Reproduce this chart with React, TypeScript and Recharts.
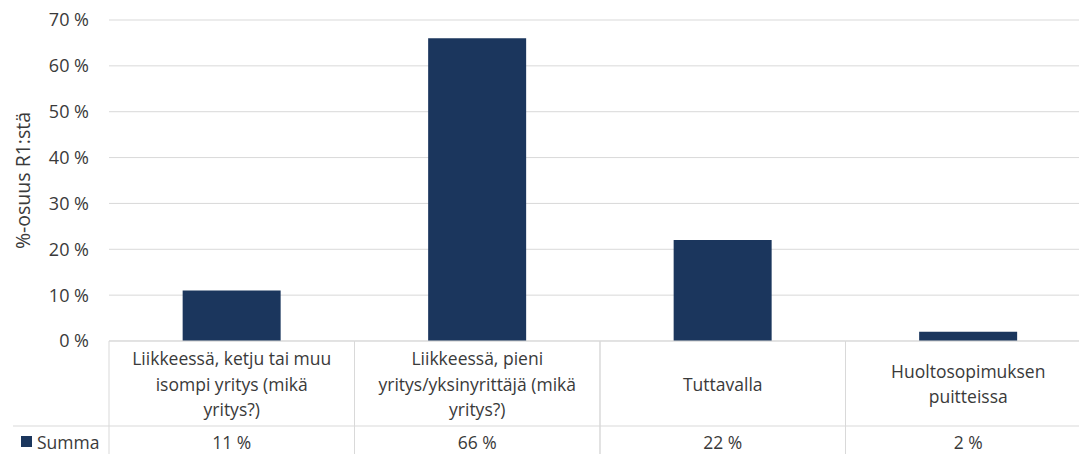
import React from "react";
import { BarChart, Bar, XAxis, YAxis, CartesianGrid } from "recharts";

// Where the repair was done, share of R1 answers (%)
const categories = [
  "Liikkeessä, ketju tai muu isompi yritys (mikä yritys?)",
  "Liikkeessä, pieni yritys/yksinyrittäjä (mikä yritys?)",
  "Tuttavalla",
  "Huoltosopimuksen puitteissa",
];
const categoryLines = [
  ["Liikkeessä, ketju tai muu", "isompi yritys (mikä", "yritys?)"],
  ["Liikkeessä, pieni", "yritys/yksinyrittäjä (mikä", "yritys?)"],
  ["Tuttavalla"],
  ["Huoltosopimuksen", "puitteissa"],
];
const summa = [11, 66, 22, 2];
const yTicks = [0, 10, 20, 30, 40, 50, 60, 70];
const seriesName = "Summa";
const yLabel = "%-osuus R1:stä";

const data = categories.map((c, i) => ({ name: c, idx: i, value: summa[i] }));

const FONT = "'Open Sans', 'Noto Sans', sans-serif";
const BAR = "#1B365D";
const BORDER = "#D9D9D9";
const TEXT = "#3A3A3A";
const ROW1 = 85; // height of the category row
const ROW2 = 40; // height of the value row
const LEGEND_W = 96;
const LINE_H = 25.5;
const TABLE_FS = 17.5;

const TableTick = (props: any) => {
  const { x, y, payload, index } = props;
  const half = payload && payload.offset ? payload.offset : 122.75;
  const i = typeof index === "number" ? index : payload.index;
  const lines = categoryLines[i] || [];
  const midY = y + ROW1 / 2;
  const startY = midY - ((lines.length - 1) * LINE_H) / 2;
  return (
    <g>
      {/* cell borders */}
      <line x1={x - half} x2={x + half} y1={y} y2={y} stroke={BORDER} strokeWidth={1} />
      <line x1={x - half} x2={x + half} y1={y + ROW1} y2={y + ROW1} stroke={BORDER} strokeWidth={1} />
      <line x1={x - half} x2={x - half} y1={y} y2={y + ROW1 + ROW2} stroke={BORDER} strokeWidth={1} />
      <line x1={x + half} x2={x + half} y1={y} y2={y + ROW1 + ROW2} stroke={BORDER} strokeWidth={1} />
      {lines.map((l, k) => (
        <text
          key={k}
          x={x}
          y={startY + k * LINE_H}
          textAnchor="middle"
          dominantBaseline="central"
          fill={TEXT}
          fontSize={TABLE_FS}
          fontFamily={FONT}
        >
          {l}
        </text>
      ))}
      <text
        x={x}
        y={y + ROW1 + 15.5}
        textAnchor="middle"
        dominantBaseline="central"
        fill={TEXT}
        fontSize={TABLE_FS}
        fontFamily={FONT}
      >
        {`${summa[i]} %`}
      </text>
      {i === 0 && (
        <g>
          <line
            x1={x - half - LEGEND_W}
            x2={x - half}
            y1={y + ROW1}
            y2={y + ROW1}
            stroke={BORDER}
            strokeWidth={1}
          />
          <rect x={x - half - 88} y={y + ROW1 + 10} width={11} height={11} fill={BAR} />
          <text
            x={x - half - 72}
            y={y + ROW1 + 15.5}
            dominantBaseline="central"
            fill={TEXT}
            fontSize={TABLE_FS}
            fontFamily={FONT}
          >
            {seriesName}
          </text>
        </g>
      )}
    </g>
  );
};

const YLabel = (props: any) => {
  const vb = props.viewBox || { x: 0, y: 20, width: 109, height: 321 };
  const cx = vb.x + 22;
  const cy = vb.y + vb.height / 2;
  return (
    <text
      x={cx}
      y={cy}
      transform={`rotate(-90, ${cx}, ${cy})`}
      textAnchor="middle"
      dominantBaseline="central"
      fill={TEXT}
      fontSize={19.5}
      fontFamily={FONT}
    >
      {yLabel}
    </text>
  );
};

export default function App() {
  return (
    <div
      style={{
        position: "fixed",
        left: 0,
        top: 0,
        width: 1079,
        height: 454,
        overflow: "hidden",
        background: "#fff",
      }}
    >
      <BarChart
        width={1100}
        height={454}
        data={data}
        margin={{ top: 20, right: 9, bottom: 0, left: 0 }}
        barCategoryGap="30%"
      >
        <CartesianGrid vertical={false} stroke={BORDER} strokeWidth={1} />
        <XAxis
          dataKey="name"
          height={113}
          interval={0}
          axisLine={false}
          tickLine={false}
          tickSize={0}
          tickMargin={0}
          tick={<TableTick />}
        />
        <YAxis
          width={109}
          domain={[0, 70]}
          ticks={yTicks}
          interval={0}
          axisLine={false}
          tickLine={false}
          tickMargin={14}
          tickFormatter={(v: number) => `${v} %`}
          tick={{ fill: TEXT, fontSize: 18, fontFamily: FONT }}
          label={<YLabel />}
        />
        <Bar dataKey="value" name={seriesName} fill={BAR} isAnimationActive={false} />
      </BarChart>
    </div>
  );
}
